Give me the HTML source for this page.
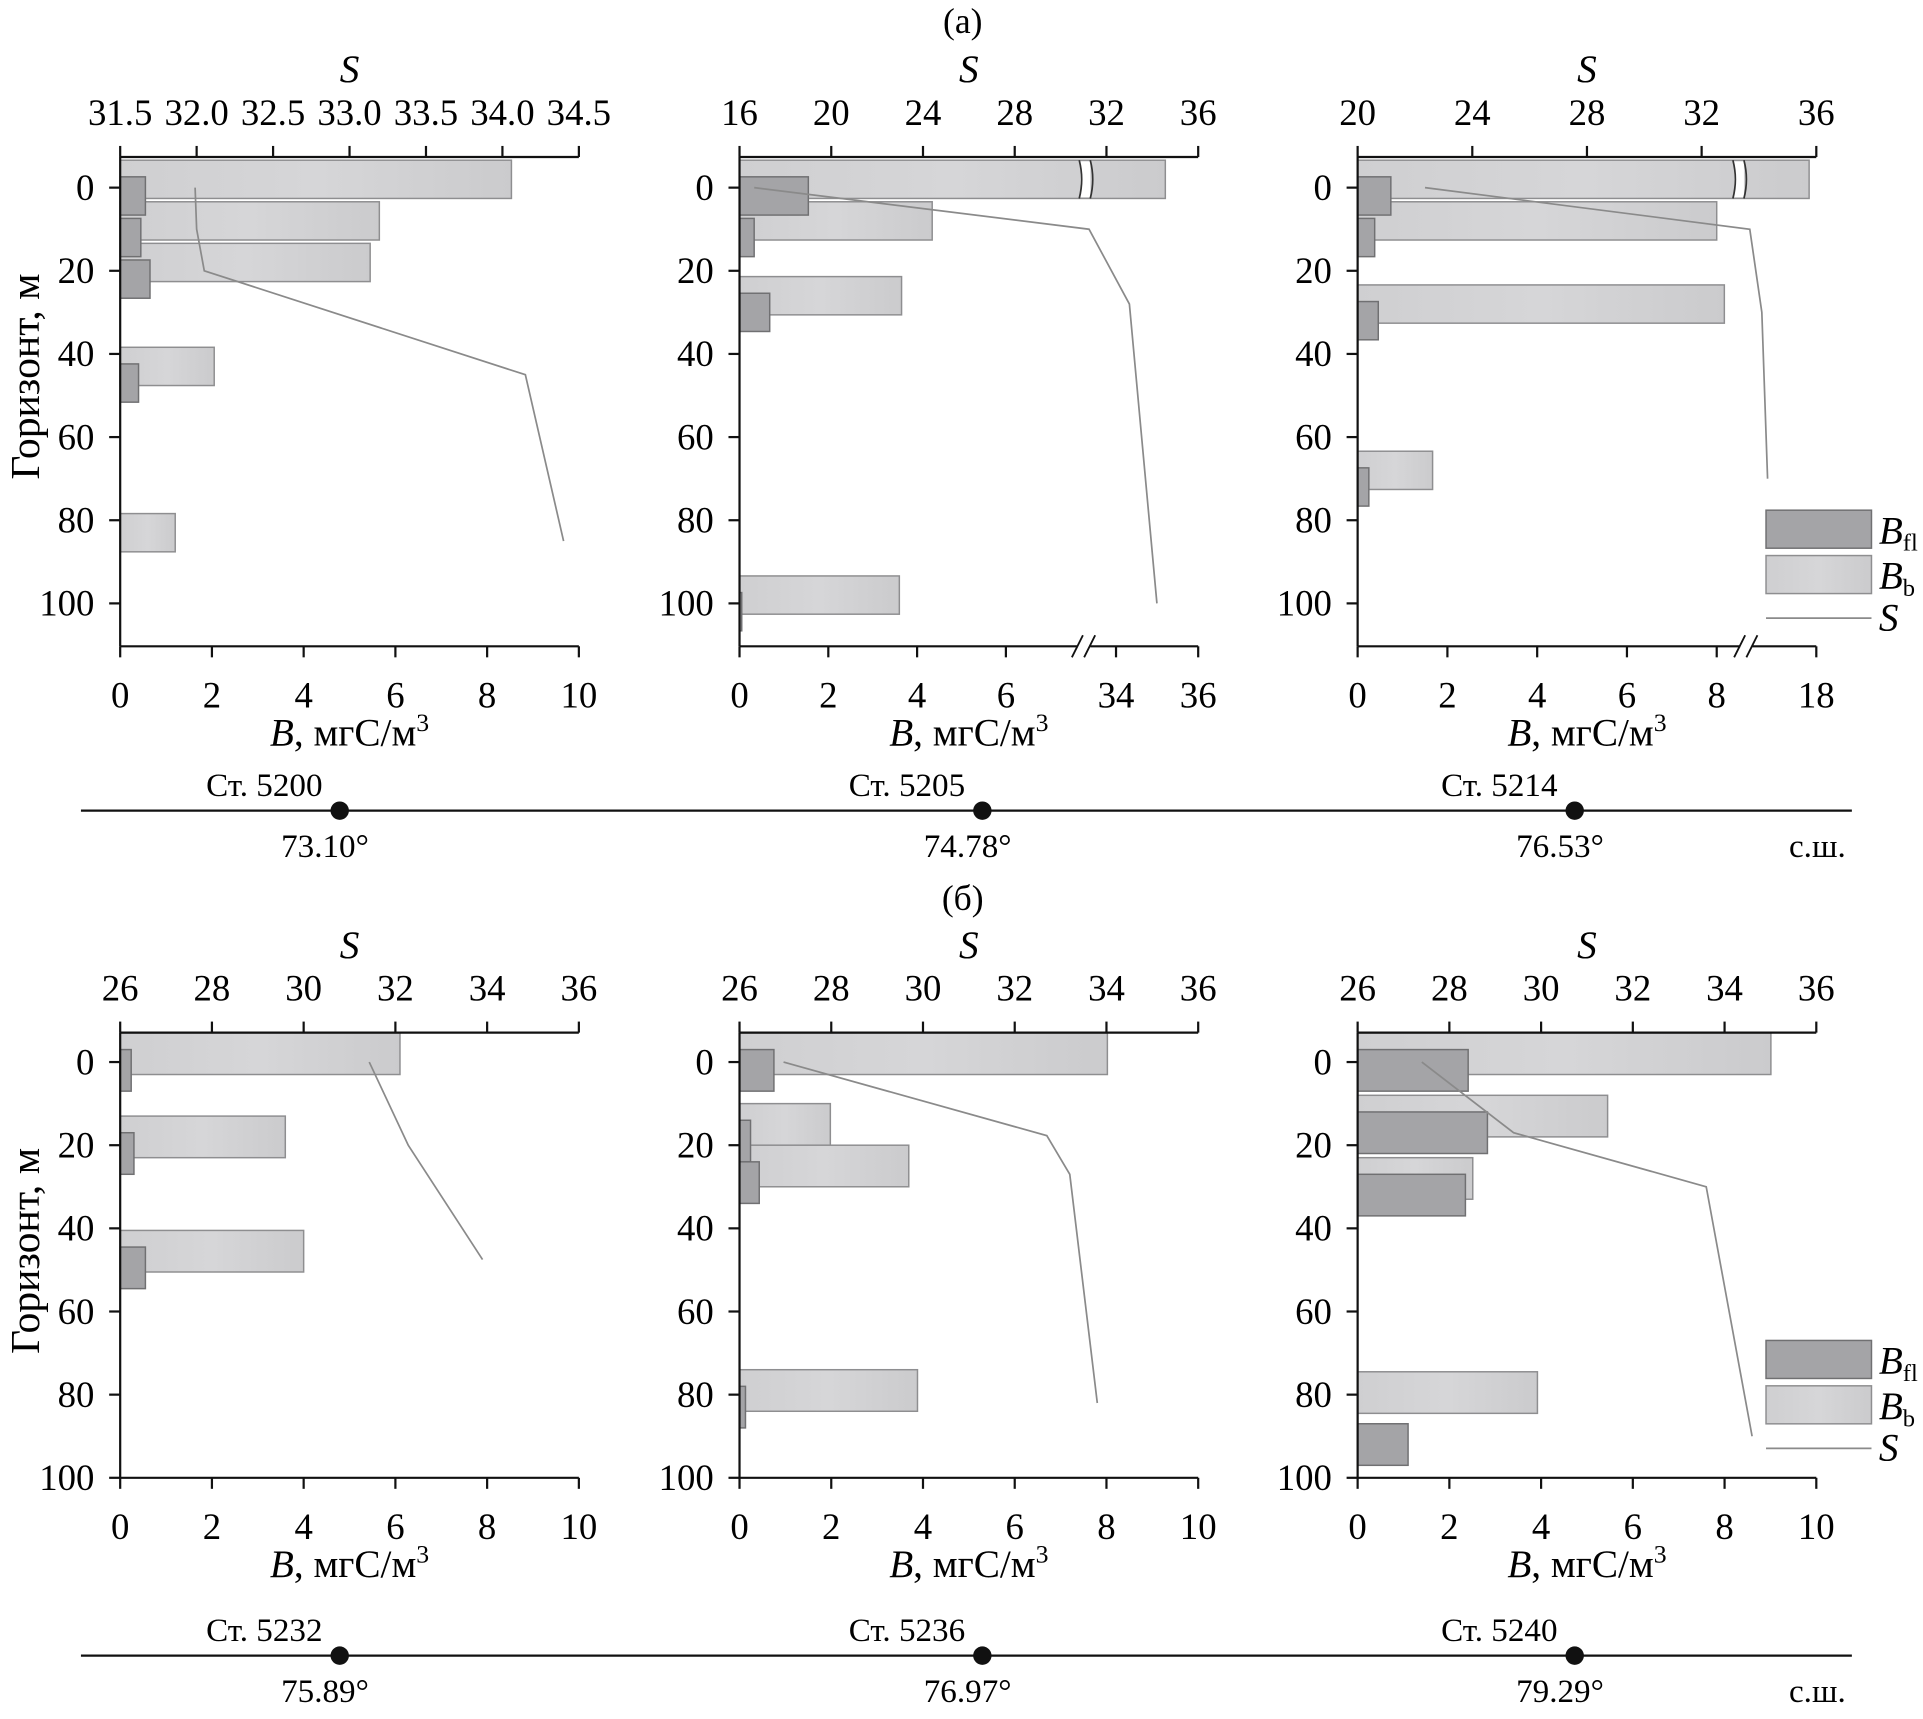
<!DOCTYPE html>
<html><head><meta charset="utf-8"><style>
html,body{margin:0;padding:0;background:#fff;}
svg, svg text{font-family:"Liberation Serif","DejaVu Serif",serif;}
</style></head><body>
<svg id="fig" width="1923" height="1714" viewBox="0 0 1568 1397.6" preserveAspectRatio="none" xmlns="http://www.w3.org/2000/svg" font-family="Liberation Serif, DejaVu Serif, serif">
<defs>
<linearGradient id="lg" x1="0" x2="1" y1="0" y2="0"><stop offset="0" stop-color="#cfcfd1"/><stop offset="0.5" stop-color="#d6d6d8"/><stop offset="1" stop-color="#cbcbcd"/></linearGradient>
</defs>
<text x="785" y="27" font-size="29" text-anchor="middle">(а)</text>
<text x="785" y="742" font-size="29" text-anchor="middle">(б)</text>
<text transform="translate(32,307) rotate(-90)" font-size="34" text-anchor="middle">Горизонт, м</text>
<text transform="translate(32,1020) rotate(-90)" font-size="34" text-anchor="middle">Горизонт, м</text>
</svg>
<script>
// ---- data arrays ----
const a1Depths=[0,10,20,45,85];
const a1Light=[8.53,5.65,5.45,2.05,1.2];
const a1DarkDepths=[0,10,20,45];
const a1Dark=[0.55,0.45,0.65,0.4];
const a1SDepth=[0,10,20,45,85];
const a1S=[31.99,32.0,32.05,34.15,34.4];
const a1TopTicks=["31.5","32.0","32.5","33.0","33.5","34.0","34.5"];
const a1BotTicks=["0","2","4","6","8","10"];

const a2Depths=[0,10,28,100];
const a2Light=[35.2,4.34,3.65,3.6];
const a2Dark=[1.55,0.33,0.68,0.05];
const a2SDepth=[0,10,28,100];
const a2S=[16.64,31.24,33.0,34.2];
const a2TopTicks=["16","20","24","28","32","36"];
const a2BotTicks=["0","2","4","6","34","36"];

const a3Depths=[0,10,30,70];
const a3Light=[17.84,8.0,8.17,1.67];
const a3Dark=[0.74,0.38,0.46,0.25];
const a3SDepth=[0,10,30,70];
const a3S=[22.35,33.68,34.1,34.3];
const a3TopTicks=["20","24","28","32","36"];
const a3BotTicks=["0","2","4","6","8","18"];

const b1Depths=[0,20,47.5];
const b1Light=[6.1,3.6,4.0];
const b1Dark=[0.24,0.3,0.55];
const b1SDepth=[0,20,47.5];
const b1S=[31.43,32.28,33.9];

const b2Depths=[0,17,27,81];
const b2Light=[8.02,1.98,3.69,3.88];
const b2Dark=[0.75,0.24,0.43,0.13];
const b2SDepth=[0,17.7,27,82];
const b2S=[26.96,32.7,33.2,33.8];

const b3Depths=[0,15,30,81.5];
const b3Light=[9.01,5.45,2.51,3.92];
const b3DarkDepths=[0,15,30,90];
const b3Dark=[2.41,2.83,2.35,1.1];
const b3SDepth=[0,17,30,90];
const b3S=[27.4,29.4,33.6,34.6];

const bTopTicks=["26","28","30","32","34","36"];
const bBotTicks=["0","2","4","6","8","10"];
const depthTicks=[0,20,40,60,80,100];

const stationsA=["Ст. 5200","Ст. 5205","Ст. 5214"];
const latsA=["73.10°","74.78°","76.53°"];
const stationsB=["Ст. 5232","Ст. 5236","Ст. 5240"];
const latsB=["75.89°","76.97°","79.29°"];

// ---- drawing ----
const svg=document.getElementById('fig');
const NS='http://www.w3.org/2000/svg';
function mk(tag,attrs,parent){const e=document.createElementNS(NS,tag);for(const k in attrs)e.setAttribute(k,attrs[k]);(parent||svg).appendChild(e);return e;}
function txt(x,y,s,size,anchor,parent){const t=mk('text',{x:x,y:y,'font-size':size,'text-anchor':anchor||'middle'},parent);t.textContent=s;return t;}

function chart(o){
  const g=mk('g',{});
  
  
  const y=d=>o.y0+d*3.39;
  const x0=o.x0,x1=o.x1;
  const bh=o.bh;
  o.light.forEach((v,i)=>{
    const d=o.depths[i];
    const r=mk('rect',{x:x0,y:y(d-2-bh/2),width:Math.max(o.xB(v)-x0,1),height:bh*3.39,fill:'url(#lg)',stroke:'#8e8e90','stroke-width':1.2},g);
    
    
  });
  o.dark.forEach((v,i)=>{
    const d=(o.darkDepths||o.depths)[i];
    const r=mk('rect',{x:x0,y:y(d+2-bh/2),width:Math.max(o.xB(v)-x0,1.5),height:bh*3.39,fill:'#a4a4a7',stroke:'#707072','stroke-width':1.2},g);
    
    
  });
  if(o.barBreak){
    const bx=o.barBreak, d=o.depths[0];
    mk('rect',{x:bx-4,y:y(d-2-bh/2)+1,width:8,height:bh*3.39-2,fill:'#fff'},g);
    mk('path',{d:`M${bx-5},${y(d-2-bh/2)} q4,${bh*3.39/2} 0,${bh*3.39} M${bx+4},${y(d-2-bh/2)} q4,${bh*3.39/2} 0,${bh*3.39}`,fill:'none',stroke:'#333','stroke-width':1.4},g);
  }
  const pts=o.S.map((s,i)=>o.xS(s)+','+y(o.SDepth[i])).join(' ');
  const pl=mk('polyline',{points:pts,fill:'none',stroke:'#8a8a8a','stroke-width':1.4},g);
  
  
  const ax={stroke:'#111','stroke-width':1.8,fill:'none'};
  mk('line',Object.assign({x1:x0,y1:o.yTop,x2:x0,y2:o.yBot},ax),g);
  mk('line',Object.assign({x1:x0,y1:o.yTop,x2:x1,y2:o.yTop},ax),g);
  if(o.botBreak){
    mk('line',Object.assign({x1:x0,y1:o.yBot,x2:o.botBreak-4,y2:o.yBot},ax),g);
    mk('line',Object.assign({x1:o.botBreak+6,y1:o.yBot,x2:x1,y2:o.yBot},ax),g);
    mk('path',{d:`M${o.botBreak-9},${o.yBot+9} l9,-18 M${o.botBreak+1},${o.yBot+9} l9,-18`,stroke:'#111','stroke-width':1.5,fill:'none'},g);
  } else mk('line',Object.assign({x1:x0,y1:o.yBot,x2:x1,y2:o.yBot},ax),g);
  depthTicks.forEach(d=>{
    mk('line',Object.assign({x1:x0-9,y1:y(d),x2:x0,y2:y(d)},ax),g);
    const t=txt(x0-21,y(d)+10,String(d),30,'end',g);
    
    
  });
  o.topTicks.forEach(s=>{
    const xx=o.xS(parseFloat(s));
    mk('line',Object.assign({x1:xx,y1:o.yTop-9,x2:xx,y2:o.yTop},ax),g);
    const t=txt(xx,o.topLab,s,30,'middle',g);
    
    
  });
  o.botTicks.forEach(s=>{
    const xx=o.xB(parseFloat(s));
    mk('line',Object.assign({x1:xx,y1:o.yBot,x2:xx,y2:o.yBot+9},ax),g);
    const t=txt(xx,o.botLab,s,30,'middle',g);
    
    
  });
  const cx=(x0+x1)/2;
  const st=mk('text',{x:cx,y:o.topLab-35,'font-size':32,'font-style':'italic','text-anchor':'middle'},g);
  st.textContent='S';
  
  
  const bt=mk('text',{x:cx,y:o.botLab+31,'font-size':32,'text-anchor':'middle'},g);
  
  
  const b1=mk('tspan',{'font-style':'italic'},bt);b1.textContent='B';
  const b2=mk('tspan',{},bt);b2.textContent=', мгС/м';
  const b3=mk('tspan',{dy:-12,'font-size':21},bt);b3.textContent='3';
  if(o.legend){
    const ly=o.legend;
    const l1=mk('rect',{x:1440,y:ly,width:86,height:31,fill:'#a4a4a7',stroke:'#707072','stroke-width':1.2},g);
    
    
    const l2=mk('rect',{x:1440,y:ly+37,width:86,height:31,fill:'url(#lg)',stroke:'#8e8e90','stroke-width':1.2},g);
    
    
    mk('line',{x1:1440,y1:ly+88,x2:1526,y2:ly+88,stroke:'#8a8a8a','stroke-width':1.4},g);
    const t1=mk('text',{x:1532,y:ly+27,'font-size':32},g);
    
    
    const t1a=mk('tspan',{'font-style':'italic'},t1);t1a.textContent='B';
    const t1b=mk('tspan',{dy:6,'font-size':20},t1);t1b.textContent='fl';
    const t2=mk('text',{x:1532,y:ly+64,'font-size':32},g);
    
    
    const t2a=mk('tspan',{'font-style':'italic'},t2);t2a.textContent='B';
    const t2b=mk('tspan',{dy:6,'font-size':20},t2);t2b.textContent='b';
    const t3=mk('text',{x:1532,y:ly+98,'font-size':32,'font-style':'italic'},g);
    t3.textContent='S';
    
    
  }
}

const lin=(x0,v0,k)=>v=>x0+(v-v0)*k;
chart({name:'chart-st5200',x0:98,x1:472,y0:153,yTop:128,yBot:527,bh:9.2,topLab:102,botLab:577,
  depths:a1Depths,light:a1Light,darkDepths:a1DarkDepths,dark:a1Dark,SDepth:a1SDepth,S:a1S,
  topTicks:a1TopTicks,botTicks:a1BotTicks,xB:lin(98,0,37.4),xS:lin(98,31.5,124.67)});
chart({name:'chart-st5205',x0:603,x1:977,y0:153,yTop:128,yBot:527,bh:9.2,topLab:102,botLab:577,
  depths:a2Depths,light:a2Light,dark:a2Dark,SDepth:a2SDepth,S:a2S,
  topTicks:a2TopTicks,botTicks:a2BotTicks,barBreak:885,botBreak:883,
  xB:v=>v<=8?603+v*36.2:977-(36-v)*33.5,xS:lin(603,16,18.7)});
chart({name:'chart-st5214',x0:1107,x1:1481,y0:153,yTop:128,yBot:527,bh:9.2,topLab:102,botLab:577,
  depths:a3Depths,light:a3Light,dark:a3Dark,SDepth:a3SDepth,S:a3S,
  topTicks:a3TopTicks,botTicks:a3BotTicks,barBreak:1418,botBreak:1423,legend:416,
  xB:v=>v<=9?1107+v*36.6:1481-(18-v)*36.6,xS:lin(1107,20,23.375)});
chart({name:'chart-st5232',x0:98,x1:472,y0:866,yTop:842,yBot:1205,bh:10,topLab:816,botLab:1255,
  depths:b1Depths,light:b1Light,dark:b1Dark,SDepth:b1SDepth,S:b1S,
  topTicks:bTopTicks,botTicks:bBotTicks,xB:lin(98,0,37.4),xS:lin(98,26,37.4)});
chart({name:'chart-st5236',x0:603,x1:977,y0:866,yTop:842,yBot:1205,bh:10,topLab:816,botLab:1255,
  depths:b2Depths,light:b2Light,dark:b2Dark,SDepth:b2SDepth,S:b2S,
  topTicks:bTopTicks,botTicks:bBotTicks,xB:lin(603,0,37.4),xS:lin(603,26,37.4)});
chart({name:'chart-st5240',x0:1107,x1:1481,y0:866,yTop:842,yBot:1205,bh:10,topLab:816,botLab:1255,
  depths:b3Depths,light:b3Light,darkDepths:b3DarkDepths,dark:b3Dark,SDepth:b3SDepth,S:b3S,
  topTicks:bTopTicks,botTicks:bBotTicks,legend:1093,xB:lin(1107,0,37.4),xS:lin(1107,26,37.4)});

function transect(yl,st,lat,name){
  const g=mk('g',{});
  
  
  mk('line',{x1:66,y1:yl,x2:1510,y2:yl,stroke:'#111','stroke-width':1.8},g);
  const dots=[277,801,1284];
  dots.forEach((dx,i)=>{
    const c=mk('circle',{cx:dx,cy:yl,r:7.5,fill:'#111'},g);
    
    
    const t=txt(dx-14,yl-12,st[i],27,'end',g);
    
    
    const l=txt(dx-12,yl+38,lat[i],27,'middle',g);
    
    
  });
  const n=txt(1505,yl+38,'с.ш.',27,'end',g);
  
  
}
transect(661,stationsA,latsA,'transect-a');
transect(1350,stationsB,latsB,'transect-b');
</script>
</body></html>
